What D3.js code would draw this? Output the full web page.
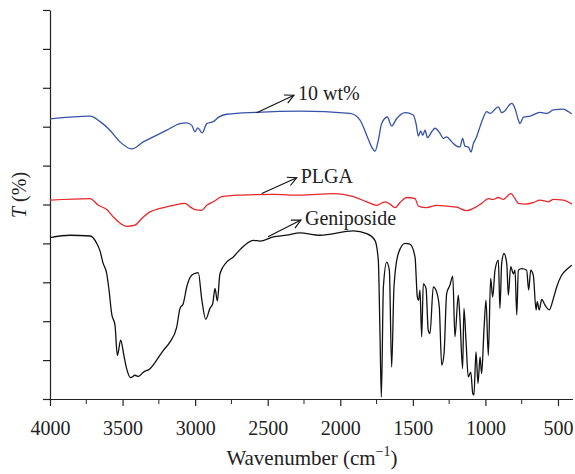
<!DOCTYPE html>
<html>
<head>
<meta charset="utf-8">
<script src="https://cdn.jsdelivr.net/npm/d3@7"></script>
<style>
  body { margin: 0; background: #fff; }
  svg { display: block; }
  text { font-family: "Liberation Serif", "Times New Roman", serif; fill: #222; }
</style>
</head>
<body>
<div id="chart"></div>
<script>
// tick labels on the wavenumber axis
const X_TICKS = [4000, 3500, 3000, 2500, 2000, 1500, 1000, 500];
const X_MINOR = [3750, 3250, 2750, 2250, 1750, 1250, 750];
const Y_TICKS = [0, 10, 20, 30, 40, 50, 60, 70, 80, 90, 100];

// 10 wt% (blue)
const wt10Wn = [4000, 3724, 3655, 3587, 3518, 3437, 3357, 3288, 3196, 3104, 3058, 3024, 3001, 2982, 2951, 2920, 2875, 2840, 2783, 2576, 2278, 1933, 1864, 1818, 1784, 1761, 1738, 1715, 1676, 1646, 1611, 1554, 1497, 1478, 1462, 1446, 1432, 1416, 1400, 1370, 1347, 1313, 1290, 1267, 1232, 1198, 1175, 1157, 1141, 1118, 1099, 1083, 1065, 1049, 1019, 991, 968, 934, 911, 888, 865, 842, 819, 796, 773, 762, 739, 693, 624, 578, 532, 463, 429, 405];
const wt10T = [72.0, 72.7, 71.3, 69.1, 66.1, 64.3, 66.1, 67.4, 69.1, 70.8, 71.0, 70.4, 68.7, 69.7, 68.4, 70.8, 71.3, 72.4, 73.2, 73.7, 74.0, 73.4, 71.7, 67.8, 64.8, 63.7, 66.5, 70.8, 72.5, 70.2, 72.1, 73.6, 73.0, 70.8, 67.6, 68.9, 67.8, 69.1, 67.2, 68.7, 69.6, 68.3, 67.0, 67.4, 66.1, 65.0, 64.8, 67.0, 65.0, 64.8, 63.5, 65.7, 67.0, 68.7, 71.9, 73.9, 73.4, 74.5, 75.1, 73.6, 74.1, 75.3, 76.0, 74.7, 71.7, 70.8, 72.4, 72.7, 73.7, 73.4, 74.3, 74.5, 73.9, 73.3];

// PLGA (red)
const plgaWn = [4000, 3724, 3667, 3609, 3564, 3506, 3472, 3414, 3368, 3311, 3242, 3150, 3070, 3035, 3001, 2955, 2920, 2875, 2817, 2691, 2462, 2278, 2048, 1910, 1818, 1749, 1692, 1657, 1623, 1588, 1542, 1485, 1462, 1405, 1336, 1267, 1198, 1129, 1083, 1026, 980, 946, 911, 877, 842, 824, 796, 773, 727, 670, 624, 567, 532, 463, 405];
const plgaT = [51.1, 51.5, 49.8, 48.7, 46.8, 44.9, 44.4, 44.7, 46.4, 48.1, 49.0, 49.8, 50.3, 49.4, 48.7, 48.5, 49.8, 50.7, 52.0, 52.4, 52.6, 52.4, 52.8, 52.0, 50.7, 49.8, 50.7, 50.1, 49.2, 50.5, 51.8, 51.5, 49.6, 49.2, 49.8, 49.6, 49.3, 48.4, 49.0, 50.3, 51.5, 51.3, 51.8, 51.3, 52.4, 52.8, 51.5, 50.3, 50.1, 50.5, 51.1, 50.7, 51.3, 51.1, 50.1];

// Geniposide (black)
const genWn = [4000, 3862, 3724, 3678, 3655, 3635, 3609, 3593, 3575, 3552, 3536, 3513, 3490, 3472, 3444, 3414, 3392, 3357, 3311, 3265, 3219, 3173, 3127, 3104, 3082, 3058, 3024, 2989, 2978, 2955, 2927, 2898, 2879, 2863, 2847, 2829, 2783, 2737, 2691, 2599, 2553, 2462, 2369, 2278, 2140, 1910, 1818, 1761, 1738, 1726, 1717, 1703, 1680, 1662, 1646, 1630, 1600, 1554, 1520, 1485, 1469, 1460, 1451, 1439, 1428, 1409, 1394, 1382, 1359, 1336, 1318, 1301, 1285, 1267, 1244, 1225, 1210, 1187, 1175, 1157, 1148, 1134, 1118, 1101, 1087, 1079, 1065, 1051, 1037, 1026, 1010, 996, 980, 964, 950, 934, 911, 900, 888, 872, 853, 842, 826, 807, 796, 784, 773, 750, 716, 702, 688, 670, 651, 643, 629, 612, 590, 560, 532, 509, 475, 440, 405];
const genT = [41.5, 42.1, 41.9, 40.0, 38.0, 35.0, 32.2, 27.9, 21.9, 18.9, 11.2, 15.1, 11.0, 7.8, 5.5, 6.1, 5.8, 6.9, 7.8, 10.0, 12.5, 14.7, 18.5, 23.3, 24.5, 28.8, 31.8, 32.4, 32.5, 25.8, 20.5, 23.3, 24.5, 28.4, 25.2, 32.2, 35.2, 36.5, 38.4, 40.8, 40.6, 41.7, 42.1, 42.7, 42.1, 43.2, 42.5, 40.8, 35.7, 16.0, 0.5, 28.8, 35.2, 33.1, 8.2, 28.8, 37.4, 40.0, 39.8, 36.5, 26.2, 25.4, 28.0, 16.0, 29.6, 28.4, 17.7, 16.8, 28.8, 27.5, 23.7, 8.7, 11.7, 27.1, 29.3, 31.6, 16.0, 26.7, 20.3, 7.8, 23.3, 15.1, 5.7, 6.9, 1.4, 1.0, 12.1, 4.0, 10.8, 6.5, 17.7, 25.4, 11.2, 31.0, 26.2, 33.1, 35.7, 23.3, 34.8, 37.4, 34.8, 26.7, 34.0, 32.2, 33.1, 21.6, 33.1, 33.5, 33.1, 28.0, 33.1, 31.8, 22.9, 25.0, 22.9, 25.6, 24.2, 22.9, 25.8, 28.8, 31.8, 33.3, 34.4];

// label text, arrow tail (wn, T), arrow tip (wn, T)
const LABELS = ['10 wt%', 'PLGA', 'Geniposide'];
const ARROW_FROM = [[2576, 73.6], [2541, 52.8], [2498, 41.7]];
const ARROW_TO = [[2319, 78.1], [2300, 56.9], [2271, 46.0]];

const width = 575, height = 474;
const margin = { left: 50, right: 2.5, top: 10, bottom: 75 };

const svg = d3.select('#chart').append('svg')
  .attr('width', width)
  .attr('height', height);

const x = d3.scaleLinear().domain([4000, 400]).range([margin.left, width - margin.right]);
const y = d3.scaleLinear().domain([0, 100]).range([height - margin.bottom, margin.top]);

// axes
const xAxis = svg.append('g')
  .attr('transform', 'translate(0,' + y(0) + ')')
  .call(d3.axisBottom(x).tickValues(X_TICKS).tickSize(7).tickSizeOuter(0).tickFormat(d3.format('d')));
xAxis.selectAll('text')
  .attr('y', 36).attr('dy', 0)
  .attr('font-size', '20px')
  .attr('font-family', '"Liberation Serif", serif')
  .attr('fill', '#222');

svg.append('g')
  .attr('transform', 'translate(0,' + y(0) + ')')
  .selectAll('line')
  .data(X_MINOR)
  .join('line')
  .attr('x1', d => x(d)).attr('x2', d => x(d))
  .attr('y1', 0).attr('y2', 5)
  .attr('stroke', '#222');

svg.append('g')
  .attr('transform', 'translate(' + x(4000) + ',0)')
  .call(d3.axisLeft(y).tickValues(Y_TICKS).tickSize(7).tickSizeOuter(0).tickFormat(''));

svg.selectAll('.domain, .tick line').attr('stroke', '#222').attr('stroke-width', 1.2);

// spectra
const line = d3.line()
  .x(d => x(d[0]))
  .y(d => y(d[1]))
  .curve(d3.curveMonotoneX);

const series = [
  { wn: genWn, t: genT, color: '#111' },
  { wn: plgaWn, t: plgaT, color: '#e8262b' },
  { wn: wt10Wn, t: wt10T, color: '#3552a8' },
];

series.forEach(s => {
  svg.append('path')
    .datum(s.wn.map((w, i) => [w, s.t[i]]))
    .attr('fill', 'none')
    .attr('stroke', s.color)
    .attr('stroke-width', 1.3)
    .attr('stroke-linejoin', 'round')
    .attr('d', line);
});

// annotations
svg.append('defs').append('marker')
  .attr('id', 'head')
  .attr('viewBox', '-10 -6 12 12')
  .attr('refX', 0)
  .attr('refY', 0)
  .attr('markerWidth', 12)
  .attr('markerHeight', 12)
  .attr('markerUnits', 'userSpaceOnUse')
  .attr('orient', 'auto')
  .append('path')
  .attr('d', 'M-9,-4.5L0,0L-9,4.5')
  .attr('fill', 'none')
  .attr('stroke', '#111')
  .attr('stroke-width', 1.1);

LABELS.forEach((label, i) => {
  const [w0, t0] = ARROW_FROM[i];
  const [w1, t1] = ARROW_TO[i];
  svg.append('line')
    .attr('x1', x(w0)).attr('y1', y(t0))
    .attr('x2', x(w1)).attr('y2', y(t1))
    .attr('stroke', '#111')
    .attr('stroke-width', 1.1)
    .attr('marker-end', 'url(#head)');
  svg.append('text')
    .attr('x', x(w1) + 4)
    .attr('y', y(t1) + 5)
    .attr('font-size', '20px')
    .text(label);
});

// axis titles
svg.append('text')
  .attr('x', 312)
  .attr('y', 465)
  .attr('text-anchor', 'middle')
  .attr('font-size', '21px')
  .html('Wavenumber (cm<tspan dy="-9" font-size="14px">\u22121</tspan><tspan dy="9">)</tspan>');

svg.append('text')
  .attr('transform', 'translate(26,195) rotate(-90)')
  .attr('text-anchor', 'middle')
  .attr('font-size', '20px')
  .html('<tspan font-style="italic">T</tspan> (%)');
</script>
</body>
</html>
